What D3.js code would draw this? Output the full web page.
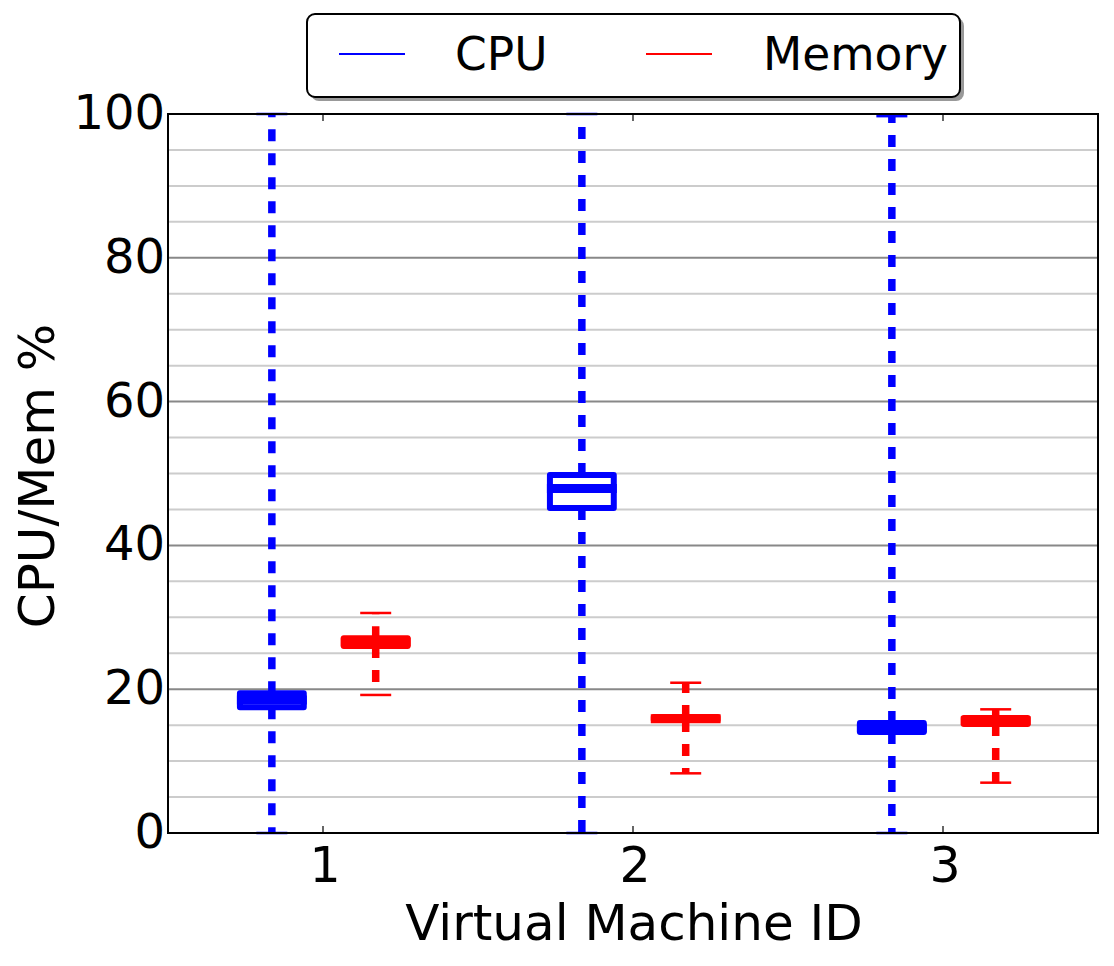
<!DOCTYPE html>
<html><head><meta charset="utf-8">
<script src="https://cdn.jsdelivr.net/npm/d3@7"></script>
<style>body{margin:0;background:#fff}svg{display:block}text{font-family:"DejaVu Sans",sans-serif}</style>
</head><body><svg id="c" width="1114" height="966"></svg>
<script>
const categories = [1, 2, 3];
const cpuLow  = [0, 0, 0];
const cpuQ1   = [17.5, 45.2, 14.05];
const cpuMed  = [18.5, 47.9, 14.6];
const cpuQ3   = [19.45, 49.8, 15.3];
const cpuHigh = [100, 100, 99.7];
const memLow  = [19.2, 8.3, 7.0];
const memQ1   = [26.0, 15.7, 15.15];
const memMed  = [26.55, 15.9, 15.6];
const memQ3   = [27.1, 16.15, 16.0];
const memHigh = [30.6, 20.9, 17.2];
const yTicks = [0, 20, 40, 60, 80, 100];
const yMinor = d3.range(5, 100, 5).filter(v => v % 20 !== 0);
const seriesNames = ["CPU", "Memory"];
const seriesColors = ["#0000ff", "#ff0000"];

const svg = d3.select("#c");
const L = 168, R = 1098, T = 114, B = 833;
const x = d3.scaleLinear().domain([0.5, 3.5]).range([L, R]);
const y = d3.scaleLinear().domain([0, 100]).range([B, T]);

// grid
svg.append("g").selectAll("line").data(yMinor).join("line")
  .attr("x1", L).attr("x2", R).attr("y1", d => y(d)).attr("y2", d => y(d))
  .attr("stroke", "#cccccc").attr("stroke-width", 2);
svg.append("g").selectAll("line").data(yTicks.filter(v => v > 0 && v < 100)).join("line")
  .attr("x1", L).attr("x2", R).attr("y1", d => y(d)).attr("y2", d => y(d))
  .attr("stroke", "#888888").attr("stroke-width", 2);

const series = [
  {low: cpuLow, q1: cpuQ1, med: cpuMed, q3: cpuQ3, high: cpuHigh, off: -0.165, color: seriesColors[0]},
  {low: memLow, q1: memQ1, med: memMed, q3: memQ3, high: memHigh, off: 0.17, color: seriesColors[1]}
];
const bw = 0.206, cw = 0.1, boxW = 6, medW = 9;
series.forEach(s => {
  const g = svg.append("g");
  const data = categories.map((c, i) => ({c, i, cx: c + s.off}));
  // whiskers
  g.selectAll("line.wu").data(data).join("line").attr("class", "wu")
    .attr("x1", d => x(d.cx)).attr("x2", d => x(d.cx))
    .attr("y1", d => y(s.q3[d.i])).attr("y2", d => y(s.high[d.i]))
    .attr("stroke", s.color).attr("stroke-width", 7.5).attr("stroke-dasharray", "12,12");
  g.selectAll("line.wl").data(data).join("line").attr("class", "wl")
    .attr("x1", d => x(d.cx)).attr("x2", d => x(d.cx))
    .attr("y1", d => y(s.q1[d.i])).attr("y2", d => y(s.low[d.i]))
    .attr("stroke", s.color).attr("stroke-width", 7.5).attr("stroke-dasharray", "12,12");
  // caps
  ["high", "low"].forEach(k => {
    g.selectAll("line.cap" + k).data(data).join("line").attr("class", "cap" + k)
      .attr("x1", d => x(d.cx - cw / 2)).attr("x2", d => x(d.cx + cw / 2))
      .attr("y1", d => y(s[k][d.i])).attr("y2", d => y(s[k][d.i]))
      .attr("stroke", s.color).attr("stroke-width", 2.5);
  });
  // boxes
  g.selectAll("rect").data(data).join("rect")
    .attr("x", d => x(d.cx - bw / 2)).attr("width", d => x(d.cx + bw / 2) - x(d.cx - bw / 2))
    .attr("y", d => y(s.q3[d.i])).attr("height", d => y(s.q1[d.i]) - y(s.q3[d.i]))
    .attr("fill", "none").attr("stroke", s.color).attr("stroke-width", boxW)
    .attr("stroke-linejoin", "round");
  g.selectAll("line.med").data(data).join("line").attr("class", "med")
    .attr("x1", d => x(d.cx - bw / 2) - boxW / 2).attr("x2", d => x(d.cx + bw / 2) + boxW / 2)
    .attr("y1", d => y(s.med[d.i])).attr("y2", d => y(s.med[d.i]))
    .attr("stroke", s.color).attr("stroke-width", medW);
});

// frame
svg.append("rect").attr("x", L).attr("y", T).attr("width", R - L).attr("height", B - T)
  .attr("fill", "none").attr("stroke", "#000").attr("stroke-width", 2);

// x ticks (inside, top and bottom)
const xg = svg.append("g");
xg.selectAll("line.b").data(categories).join("line").attr("class", "b")
  .attr("x1", d => x(d)).attr("x2", d => x(d)).attr("y1", B).attr("y2", B - 7)
  .attr("stroke", "#000").attr("stroke-width", 1.2);
xg.selectAll("line.t").data(categories).join("line").attr("class", "t")
  .attr("x1", d => x(d)).attr("x2", d => x(d)).attr("y1", T).attr("y2", T + 7)
  .attr("stroke", "#000").attr("stroke-width", 1.2);
xg.selectAll("text").data(categories).join("text")
  .attr("x", d => x(d) + 2).attr("y", 882).attr("text-anchor", "middle")
  .attr("font-size", 49).text(d => d);

// y tick labels
svg.append("g").selectAll("text").data(yTicks).join("text")
  .attr("x", 165).attr("y", d => y(d) + 15).attr("text-anchor", "end")
  .attr("font-size", 48).text(d => d);

// axis titles
svg.append("text").attr("x", 634).attr("y", 940).attr("text-anchor", "middle")
  .attr("font-size", 50).text("Virtual Machine ID");
svg.append("text").attr("transform", "translate(54,476) rotate(-90)").attr("text-anchor", "middle")
  .attr("font-size", 50).text("CPU/Mem %");

// legend
const lg = svg.append("g");
lg.append("rect").attr("x", 311).attr("y", 18).attr("width", 653).attr("height", 83).attr("rx", 8)
  .attr("fill", "#999");
lg.append("rect").attr("x", 307).attr("y", 14).attr("width", 653).attr("height", 83).attr("rx", 8)
  .attr("fill", "#fff").attr("stroke", "#000").attr("stroke-width", 2);
const legX = [339, 646], legT = [455, 763];
seriesNames.forEach((n, i) => {
  lg.append("line").attr("x1", legX[i]).attr("x2", legX[i] + 66).attr("y1", 54).attr("y2", 54)
    .attr("stroke", seriesColors[i]).attr("stroke-width", 2);
  lg.append("text").attr("x", legT[i]).attr("y", 70).attr("font-size", 45.5).text(n);
});
</script></body></html>
